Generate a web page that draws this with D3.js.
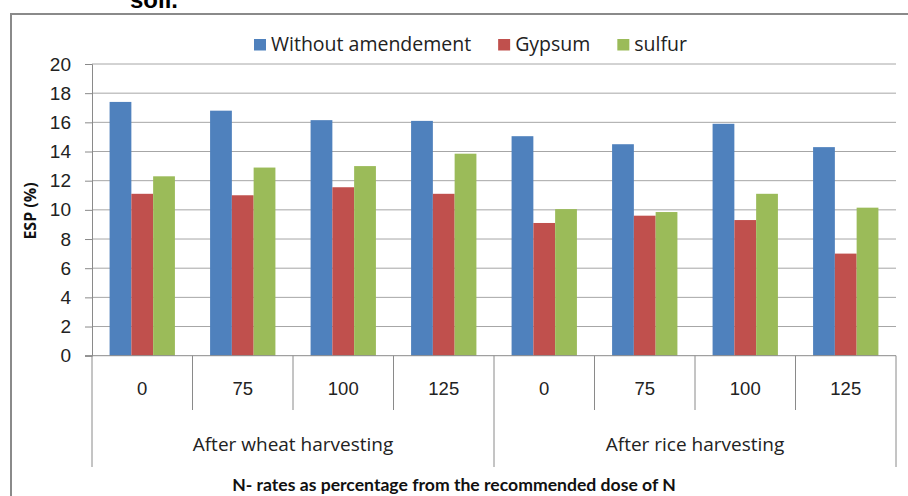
<!DOCTYPE html>
<html>
<head>
<meta charset="utf-8">
<script src="https://cdn.jsdelivr.net/npm/d3@7"></script>
<style>
  body { margin: 0; background: #fff; }
  svg { display: block; }
</style>
</head>
<body>
<div id="container"></div>
<script>
let w = 908;
let h = 496;

// data
let rateLabels = ["0", "75", "100", "125", "0", "75", "100", "125"];
let groupLabels = ["After wheat harvesting", "After rice harvesting"];
let seriesNames = ["Without amendement", "Gypsum", "sulfur"];
let withoutAmendement = [17.4, 16.8, 16.15, 16.1, 15.05, 14.5, 15.9, 14.3];
let gypsum = [11.1, 11.0, 11.55, 11.1, 9.1, 9.6, 9.3, 7.0];
let sulfur = [12.3, 12.9, 13.0, 13.85, 10.05, 9.85, 11.1, 10.15];
let yTickValues = [0, 2, 4, 6, 8, 10, 12, 14, 16, 18, 20];

let colors = ["#4F81BD", "#C0504D", "#9BBB59"];
let seriesValues = [withoutAmendement, gypsum, sulfur];

let wideSans = "'Open Sans', Lato, sans-serif";
let narrowSans = "Lato, 'Open Sans', sans-serif";
let arial = "'Liberation Sans', Arial, sans-serif";

let viz = d3.select("#container")
  .append("svg")
    .attr("width", w)
    .attr("height", h)
    .style("background-color", "white");

// caption cut off above the frame (as in the original)
viz.append("text")
  .attr("x", 130)
  .attr("y", 8)
  .style("font-family", arial)
  .style("font-weight", "bold")
  .style("font-size", "24px")
  .text("soil.");

// frame
viz.append("rect")
  .attr("x", 11)
  .attr("y", 14)
  .attr("width", 920)
  .attr("height", 520)
  .attr("fill", "none")
  .attr("stroke", "#8a8a8a")
  .attr("stroke-width", 2);

let plotLeft = 92, plotRight = 896, plotTop = 64, plotBottom = 355.7;

let xScale = d3.scaleBand().domain(d3.range(rateLabels.length)).range([plotLeft, plotRight]);
let bw = xScale.bandwidth();
let xInner = d3.scaleBand().domain(d3.range(seriesNames.length)).range([bw * 0.175, bw * 0.825]);
let yScale = d3.scaleLinear().domain([0, 20]).range([plotBottom, plotTop]);

// gridlines
viz.append("g").selectAll("line").data(yTickValues.filter(d => d > 0)).enter()
  .append("line")
    .attr("x1", plotLeft)
    .attr("x2", plotRight)
    .attr("y1", d => yScale(d))
    .attr("y2", d => yScale(d))
    .attr("stroke", "#a6a6a6")
    .attr("stroke-width", 1);

// y axis
let yAxisGroup = viz.append("g").attr("class", "yaxis")
  .attr("transform", "translate(" + plotLeft + ",0)");
yAxisGroup.call(d3.axisLeft(yScale).tickValues(yTickValues).tickSize(7).tickPadding(14));
yAxisGroup.select(".domain").attr("stroke", "#8a8a8a");
yAxisGroup.selectAll(".tick line").attr("stroke", "#8a8a8a");
yAxisGroup.selectAll(".tick text")
  .style("font-family", arial)
  .style("font-size", "19px")
  .attr("fill", "#222");

// bars
let dataGroups = viz.selectAll(".datagroup").data(rateLabels).enter()
  .append("g")
    .attr("class", "datagroup")
    .attr("transform", (d, i) => "translate(" + xScale(i) + ",0)");

dataGroups.selectAll("rect")
  .data((d, i) => seriesValues.map((vals, s) => ({ s: s, v: vals[i] })))
  .enter()
  .append("rect")
    .attr("x", d => xInner(d.s))
    .attr("width", xInner.bandwidth())
    .attr("y", d => yScale(d.v))
    .attr("height", d => yScale(0) - yScale(d.v))
    .attr("fill", d => colors[d.s]);

// x axis line
viz.append("line")
  .attr("x1", plotLeft - 7)
  .attr("x2", plotRight)
  .attr("y1", plotBottom)
  .attr("y2", plotBottom)
  .attr("stroke", "#8a8a8a");

// category dividers
let dividerX = d3.range(rateLabels.length + 1).map(i => i < rateLabels.length ? xScale(i) : plotRight);
viz.append("g").selectAll("line").data(dividerX).enter()
  .append("line")
    .attr("x1", d => d)
    .attr("x2", d => d)
    .attr("y1", plotBottom)
    .attr("y2", (d, i) => (i % 4 == 0) ? 467 : 410)
    .attr("stroke", "#8a8a8a");

// rate labels
viz.append("g").selectAll("text").data(rateLabels).enter()
  .append("text")
    .attr("x", (d, i) => xScale(i) + bw / 2)
    .attr("y", 395)
    .attr("text-anchor", "middle")
    .style("font-family", arial)
    .style("font-size", "18.5px")
    .attr("fill", "#222")
    .text(d => d);

// group labels
viz.append("g").selectAll("text").data(groupLabels).enter()
  .append("text")
    .attr("x", (d, i) => (xScale(i * 4) + (i == 1 ? plotRight : xScale(4))) / 2)
    .attr("y", 451)
    .attr("text-anchor", "middle")
    .style("font-family", wideSans)
    .style("font-size", "19px")
    .attr("fill", "#222")
    .text(d => d);

// axis titles
viz.append("text")
  .attr("x", 454)
  .attr("y", 491)
  .attr("text-anchor", "middle")
  .style("font-family", narrowSans)
  .style("font-weight", "bold")
  .style("font-size", "17.6px")
  .attr("fill", "#111")
  .text("N- rates as percentage from the recommended dose of N");

viz.append("text")
  .attr("transform", "translate(36,211) rotate(-90)")
  .attr("text-anchor", "middle")
  .style("font-family", wideSans)
  .style("font-weight", "bold")
  .style("font-size", "16px")
  .attr("fill", "#111")
  .text("ESP (%)");

// legend
let legend = viz.append("g").attr("class", "legend");
let lx = 254;
seriesNames.forEach(function (name, i) {
  legend.append("rect")
    .attr("x", lx)
    .attr("y", 39)
    .attr("width", 12)
    .attr("height", 11.5)
    .attr("fill", colors[i]);
  let t = legend.append("text")
    .attr("x", lx + 17)
    .attr("y", 51)
    .style("font-family", wideSans)
    .style("font-size", "19.5px")
    .attr("fill", "#222")
    .text(name);
  lx = lx + 17 + t.node().getComputedTextLength() + 27;
});
</script>
</body>
</html>
